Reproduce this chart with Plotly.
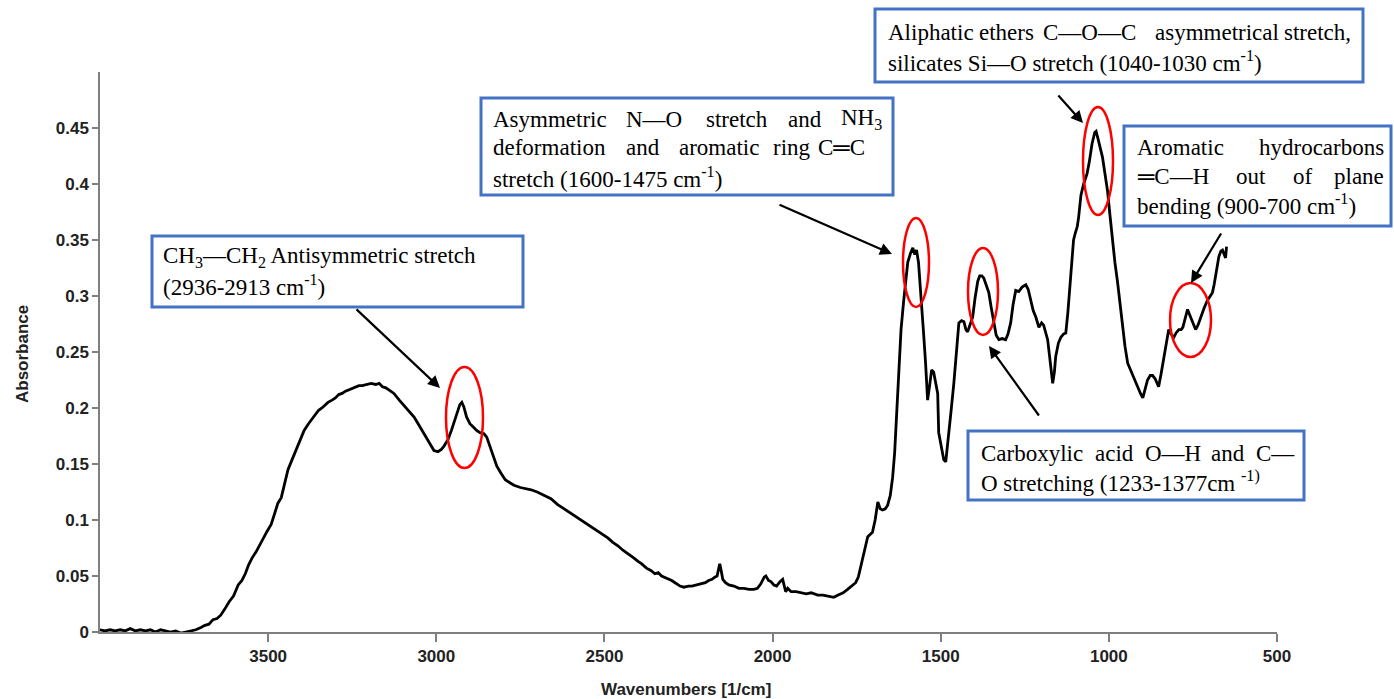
import plotly.graph_objects as go

# ---------------- data ----------------
wavenumber = [
    4000, 3985, 3970, 3955, 3940, 3925, 3910, 3895, 3880, 3865, 3850, 3835, 3820, 3805, 3790,
    3775, 3760, 3745, 3730, 3715, 3700, 3688, 3676, 3664, 3652, 3641, 3630, 3616, 3603, 3589,
    3578, 3568, 3558, 3548, 3535, 3525, 3515, 3503, 3491, 3481, 3471, 3461, 3451, 3441, 3430,
    3420, 3410, 3400, 3393, 3380, 3370, 3360, 3350, 3340, 3330, 3322, 3310, 3300, 3290, 3280,
    3270, 3262, 3250, 3240, 3230, 3220, 3210, 3194, 3180, 3170, 3160, 3150, 3140, 3126, 3110,
    3095, 3080, 3066, 3050, 3040, 3025, 3015, 3007, 2995, 2985, 2977, 2965, 2955, 2947, 2938,
    2930, 2924, 2918, 2910, 2900, 2890, 2880, 2870, 2858, 2850, 2840, 2830, 2820, 2808, 2795,
    2780, 2769, 2750, 2735, 2718, 2700, 2680, 2659, 2640, 2625, 2609, 2590, 2570, 2549, 2530,
    2510, 2490, 2475, 2460, 2445, 2430, 2412, 2400, 2390, 2375, 2362, 2350, 2340, 2330, 2312,
    2300, 2290, 2275, 2264, 2250, 2240, 2228, 2213, 2200, 2190, 2180, 2172, 2165, 2160, 2157,
    2153, 2148, 2140, 2130, 2115, 2100, 2085, 2070, 2056, 2045, 2035, 2025, 2020, 2012, 2005,
    1996, 1988, 1978, 1970, 1965, 1961, 1955, 1945, 1930, 1916, 1900, 1885, 1866, 1850, 1835,
    1818, 1805, 1790, 1777, 1765, 1753, 1745, 1738, 1730, 1722, 1717, 1710, 1703, 1695, 1690,
    1687, 1680, 1673, 1665, 1658, 1650, 1643, 1637, 1632, 1625, 1618, 1610, 1603, 1598, 1590,
    1583, 1577, 1572, 1566, 1558, 1551, 1545, 1539, 1533, 1527, 1521, 1515, 1509, 1506, 1498,
    1491, 1485, 1478, 1470, 1461, 1453, 1446, 1438, 1431, 1425, 1420, 1412, 1405, 1398, 1390,
    1384, 1378, 1372, 1365, 1357, 1350, 1342, 1335, 1327, 1317, 1307, 1300, 1292, 1285, 1277,
    1268, 1258, 1247, 1240, 1232, 1225, 1217, 1208, 1200, 1194, 1182, 1175, 1167, 1162, 1158,
    1150, 1143, 1135, 1128, 1122, 1116, 1110, 1105, 1100, 1094, 1090, 1083, 1075, 1065, 1058,
    1050, 1042, 1038, 1032, 1026, 1019, 1012, 1004, 997, 990, 982, 974, 966, 959, 952,
    944, 936, 929, 921, 914, 906, 899, 893, 885, 877, 870, 862, 852, 845, 837,
    830, 822, 815, 807, 800, 792, 785, 780, 773, 766, 758, 751, 742, 735, 727,
    717, 707, 700, 692, 687, 683, 678, 673, 667, 662, 657, 653, 650,
]
absorbance = [
    0.002, 0.001, 0.002, 0.001, 0.002, 0.001, 0.003, 0.001, 0.002, 0.001, 0.002, 0.000, 0.002, 0.001, 0.000,
    0.001, -0.001, 0.000, 0.001, 0.002, 0.004, 0.006, 0.007, 0.011, 0.012, 0.015, 0.020, 0.027, 0.032, 0.042,
    0.046, 0.052, 0.060, 0.066, 0.072, 0.078, 0.083, 0.090, 0.096, 0.105, 0.115, 0.120, 0.132, 0.145, 0.153,
    0.160, 0.168, 0.174, 0.180, 0.186, 0.190, 0.195, 0.198, 0.200, 0.203, 0.205, 0.207, 0.209, 0.212, 0.213,
    0.215, 0.216, 0.218, 0.219, 0.220, 0.220, 0.221, 0.222, 0.221, 0.222, 0.219, 0.218, 0.216, 0.213, 0.207,
    0.202, 0.197, 0.192, 0.184, 0.179, 0.171, 0.166, 0.162, 0.161, 0.163, 0.166, 0.172, 0.180, 0.187, 0.196,
    0.203, 0.205, 0.201, 0.192, 0.186, 0.183, 0.180, 0.178, 0.177, 0.174, 0.165, 0.155, 0.148, 0.142, 0.136,
    0.133, 0.131, 0.129, 0.128, 0.127, 0.125, 0.122, 0.119, 0.114, 0.111, 0.108, 0.104, 0.100, 0.096, 0.092,
    0.088, 0.084, 0.080, 0.077, 0.073, 0.070, 0.066, 0.063, 0.061, 0.057, 0.055, 0.052, 0.053, 0.050, 0.048,
    0.046, 0.044, 0.041, 0.040, 0.041, 0.041, 0.042, 0.043, 0.044, 0.046, 0.047, 0.049, 0.050, 0.057, 0.061,
    0.055, 0.047, 0.044, 0.042, 0.041, 0.039, 0.039, 0.038, 0.038, 0.039, 0.043, 0.049, 0.050, 0.046, 0.045,
    0.042, 0.041, 0.045, 0.047, 0.041, 0.036, 0.039, 0.036, 0.036, 0.035, 0.034, 0.035, 0.033, 0.033, 0.032,
    0.031, 0.033, 0.035, 0.038, 0.041, 0.044, 0.049, 0.058, 0.070, 0.080, 0.085, 0.087, 0.089, 0.100, 0.112,
    0.116, 0.110, 0.109, 0.110, 0.113, 0.122, 0.138, 0.160, 0.190, 0.237, 0.270, 0.296, 0.318, 0.330, 0.338,
    0.343, 0.337, 0.341, 0.330, 0.300, 0.267, 0.240, 0.207, 0.220, 0.234, 0.232, 0.224, 0.213, 0.178, 0.165,
    0.154, 0.152, 0.170, 0.195, 0.222, 0.255, 0.276, 0.278, 0.277, 0.270, 0.268, 0.275, 0.281, 0.298, 0.313,
    0.318, 0.318, 0.316, 0.310, 0.303, 0.290, 0.276, 0.265, 0.261, 0.262, 0.261, 0.266, 0.276, 0.292, 0.305,
    0.304, 0.308, 0.310, 0.306, 0.296, 0.287, 0.281, 0.272, 0.276, 0.274, 0.261, 0.240, 0.222, 0.232, 0.246,
    0.258, 0.263, 0.266, 0.267, 0.285, 0.310, 0.335, 0.350, 0.356, 0.362, 0.370, 0.390, 0.400, 0.409, 0.420,
    0.436, 0.446, 0.447, 0.440, 0.432, 0.424, 0.410, 0.394, 0.373, 0.352, 0.330, 0.312, 0.290, 0.272, 0.255,
    0.240, 0.234, 0.229, 0.224, 0.219, 0.213, 0.209, 0.215, 0.225, 0.229, 0.229, 0.226, 0.219, 0.230, 0.243,
    0.258, 0.270, 0.266, 0.263, 0.267, 0.270, 0.270, 0.272, 0.280, 0.288, 0.282, 0.277, 0.270, 0.274, 0.281,
    0.289, 0.296, 0.299, 0.303, 0.310, 0.317, 0.327, 0.335, 0.340, 0.341, 0.337, 0.334, 0.344,
]

x_tick_values = [3500, 3000, 2500, 2000, 1500, 1000, 500]
y_tick_values = [0, 0.05, 0.1, 0.15, 0.2, 0.25, 0.3, 0.35, 0.4, 0.45]
y_tick_labels = ["0", "0.05", "0.1", "0.15", "0.2", "0.25", "0.3", "0.35", "0.4", "0.45"]
x_title = "Wavenumbers [1/cm]"
y_title = "Absorbance"

# ---------------- layout helpers ----------------
W, H = 1394, 699
L, R, T, B = 100, 1277, 72, 632


def px(x, y):
    return (x - L) / (R - L), (B - y) / (B - T)


SERIF = "Times New Roman, Liberation Serif, serif"
SANS = "Arial, Liberation Sans, sans-serif"
BLUE = "#4472C4"
TFS = 23

fig = go.Figure()
fig.add_trace(go.Scatter(x=wavenumber, y=absorbance, mode="lines",
                         line=dict(color="black", width=2.8), hoverinfo="skip",
                         showlegend=False))

shapes = []
annotations = []

# Blue text boxes
boxes = [(152, 236, 523, 307), (481, 98, 893, 195), (875, 9, 1363, 82),
         (1124, 126, 1391, 226), (968, 431, 1304, 500)]
for (x0, y0, x1, y1) in boxes:
    a0, b0 = px(x0, y0)
    a1, b1 = px(x1, y1)
    shapes.append(dict(type="rect", xref="paper", yref="paper", x0=a0, y0=b1, x1=a1, y1=b0,
                       line=dict(color=BLUE, width=3), fillcolor="white", layer="above"))

# Red ellipses
ellipses = [(446, 367, 483, 468), (903, 218, 929, 307), (1083, 107, 1113, 215),
            (1170, 283, 1211, 357), (968, 248, 998, 335)]
for (x0, y0, x1, y1) in ellipses:
    a0, b0 = px(x0, y0)
    a1, b1 = px(x1, y1)
    shapes.append(dict(type="circle", xref="paper", yref="paper", x0=a0, y0=b1, x1=a1, y1=b0,
                       line=dict(color="#FF0000", width=2.5), layer="above"))

# Words / text lines
words = [
    ("CH<sub>3</sub>—CH<sub>2</sub> Antisymmetric stretch", 162, 257),
    ("(2936-2913 cm<sup>-1</sup>)", 162, 285),
    ("Asymmetric", 492, 119), ("N—O", 625, 119), ("stretch", 705, 119), ("and", 787, 119),
    ("NH<sub>3</sub>", 840, 119),
    ("deformation", 492, 148), ("and", 625, 148), ("aromatic", 678, 148), ("ring", 772, 148),
    ("C═C", 817, 148),
    ("stretch (1600-1475 cm<sup>-1</sup>)", 492, 177),
    ("Aliphatic", 887, 32), ("ethers", 978, 32), ("C—O—C", 1042, 32),
    ("asymmetrical", 1154, 32), ("stretch,", 1283, 32),
    ("silicates Si—O stretch (1040-1030 cm<sup>-1</sup>)", 887, 61),
    ("Aromatic", 1136, 147), ("hydrocarbons", 1258, 147),
    ("═C—H", 1136, 176), ("out", 1235, 176), ("of", 1292, 176), ("plane", 1333, 176),
    ("bending (900-700 cm<sup>-1</sup>)", 1136, 204),
    ("Carboxylic", 980, 453), ("acid", 1094, 453), ("O—H", 1144, 453), ("and", 1210, 453),
    ("C—", 1255, 453),
    ("O stretching (1233-1377cm <sup>-1)</sup>", 980, 481),
]
for (t, x, y) in words:
    a, b = px(x, y)
    annotations.append(dict(text=t, x=a, y=b, xref="paper", yref="paper", xanchor="left",
                            yanchor="middle", showarrow=False, borderpad=0,
                            font=dict(family=SERIF, size=TFS, color="black")))

# Arrows (tail -> head)
arrows = [((355, 308), (440, 388)), ((778, 204), (892, 254)), ((1057, 94), (1083, 123)),
          ((1222, 232), (1191, 283)), ((1040, 417), (989, 346))]
for (tx, ty), (hx, hy) in arrows:
    a, b = px(hx, hy)
    annotations.append(dict(text="", x=a, y=b, xref="paper", yref="paper", showarrow=True,
                            ax=tx - hx, ay=ty - hy, arrowhead=2, arrowsize=1.1, arrowwidth=2.2,
                            arrowcolor="black", standoff=0))

# Axis titles
a, b = px(22, 354)
annotations.append(dict(text=y_title, x=a, y=b, xref="paper", yref="paper", textangle=-90,
                        showarrow=False, xanchor="center", yanchor="middle",
                        font=dict(family=SANS, size=17, color="#222", weight="bold")))
a, b = px(686, 689)
annotations.append(dict(text=x_title, x=a, y=b, xref="paper", yref="paper",
                        showarrow=False, xanchor="center", yanchor="middle",
                        font=dict(family=SANS, size=17, color="#222", weight="bold")))

fig.update_layout(
    width=W, height=H,
    margin=dict(l=L, r=W - R, t=T, b=H - B, pad=0),
    paper_bgcolor="white", plot_bgcolor="white",
    showlegend=False,
    shapes=shapes, annotations=annotations,
    xaxis=dict(range=[4000, 500], tickvals=x_tick_values, showgrid=False, zeroline=False,
               showline=True, linecolor="#7f7f7f", linewidth=1.5, ticks="outside",
               ticklen=8, tickcolor="#7f7f7f", tickwidth=1.5,
               tickfont=dict(family=SANS, size=17, color="#222", weight="bold")),
    yaxis=dict(range=[0, 0.5], tickvals=y_tick_values, ticktext=y_tick_labels,
               showgrid=False, zeroline=False,
               showline=True, linecolor="#7f7f7f", linewidth=1.5, ticks="outside",
               ticklen=6, tickcolor="#7f7f7f", tickwidth=1.5,
               tickfont=dict(family=SANS, size=17, color="#222", weight="bold")),
)

fig.write_html("out.html", config={"displayModeBar": False})

# remove the default page margin so the figure sits at the window's top-left corner
with open("out.html", encoding="utf-8") as f:
    html = f.read()
html = html.replace("<head>", "<head><style>html,body{margin:0;padding:0;overflow:hidden;}</style>", 1)
with open("out.html", "w", encoding="utf-8") as f:
    f.write(html)
